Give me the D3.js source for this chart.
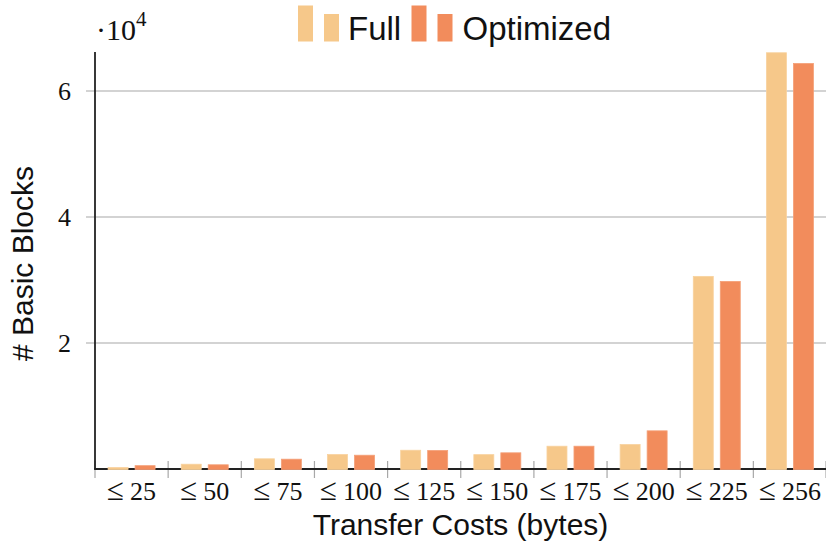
<html>
  <head>
    <meta charset="utf-8">
    <title>transfer costs</title>
    <style>
      body { margin: 0; background: #fff; }
      .tick text { font-family: "Liberation Serif", serif; }
    </style>
  </head>
  <body>
    <script src="https://cdn.jsdelivr.net/npm/d3@7"></script>
    <script>
    var width = 826;
    var height = 542;

    // data
    var categories = ["25", "50", "75", "100", "125", "150", "175", "200", "225", "256"];
    var fullValues = [150, 680, 1540, 2220, 2900, 2200, 3540, 3810, 30500, 66000];
    var optValues  = [450, 590, 1480, 2110, 2860, 2490, 3540, 5980, 29700, 64300];
    var yTicks = [20000, 40000, 60000];
    var seriesNames = ["Full", "Optimized"];
    var colors = ["#f6c88a", "#f28c5c"];
    var strokes = ["#f8d29e", "#f4a078"];

    var padding = {left: 95, right: 0, top: 52, bottom: 73};

    var svg = d3.select('body')
      .append('svg')
      .attr('width', width).attr('height', height);

    var xScale = d3.scaleBand()
      .domain(categories)
      .range([padding.left, width - padding.right + 0.5]);

    var yScale = d3.scaleLinear()
      .domain([0, 66200])
      .range([height - padding.bottom - 0, padding.top]);

    var y0 = yScale(0);

    // grid lines
    svg.append('g')
      .selectAll('line')
      .data(yTicks)
      .enter()
      .append('line')
      .attr('x1', padding.left - 9)
      .attr('x2', width)
      .attr('y1', d => yScale(d))
      .attr('y2', d => yScale(d))
      .attr('stroke', '#c4c4c4')
      .attr('stroke-width', 1.5);

    // y axis labels
    var yAxis = d3.axisLeft(yScale)
      .tickValues(yTicks)
      .tickFormat(d => d / 10000)
      .tickSize(0)
      .tickPadding(24);
    var gy = svg.append('g')
      .attr('transform', 'translate(' + padding.left + ',0)')
      .call(yAxis);
    gy.select('.domain').remove();
    gy.selectAll('text')
      .attr('font-size', 26)
      .attr('fill', '#111');

    // x boundary ticks
    var bounds = categories.map(c => xScale(c)).concat([xScale.range()[1] - 0.5]);
    svg.append('g')
      .selectAll('line')
      .data(bounds)
      .enter()
      .append('line')
      .attr('x1', d => d).attr('x2', d => d)
      .attr('y1', y0 - 8).attr('y2', y0 + 9)
      .attr('stroke', '#a8a8a8')
      .attr('stroke-width', 1.2);

    // axis lines
    svg.append('line')
      .attr('x1', padding.left).attr('x2', padding.left)
      .attr('y1', padding.top).attr('y2', y0)
      .attr('stroke', '#222').attr('stroke-width', 1.8);
    svg.append('line')
      .attr('x1', padding.left - 0.9).attr('x2', width)
      .attr('y1', y0).attr('y2', y0)
      .attr('stroke', '#222').attr('stroke-width', 2);

    // bars (drawn over the axis line, as in the original)
    var barW = 20, off = 13.5;
    var series = [fullValues, optValues];
    series.forEach(function(vals, s) {
      svg.selectAll('.bar' + s)
        .data(vals)
        .enter()
        .append('rect')
        .attr('class', 'bar' + s)
        .attr('x', (d, i) => xScale(categories[i]) + xScale.bandwidth() / 2 + (s === 0 ? -off : off) - barW / 2)
        .attr('y', d => yScale(d) - 0.5)
        .attr('width', barW)
        .attr('height', d => y0 - yScale(d) + 1)
        .attr('fill', colors[s])
        .attr('stroke', strokes[s])
        .attr('stroke-width', 0.8);
    });

    // x axis labels
    var xAxis = d3.axisBottom(xScale)
      .tickSize(0)
      .tickPadding(13)
      .tickFormat('');
    var gx = svg.append('g')
      .attr('transform', 'translate(0,' + y0 + ')')
      .call(xAxis);
    gx.select('.domain').remove();
    var lbl = gx.selectAll('text')
      .attr('font-size', 26)
      .attr('fill', '#111');
    lbl.append('tspan').attr('font-size', 31).text('\u2264');
    lbl.append('tspan').attr('dx', 6).text(d => d);

    // scale label
    var sl = svg.append('text')
      .attr('x', 96).attr('y', 40)
      .attr('font-family', '"Liberation Serif", serif')
      .attr('font-size', 30)
      .attr('fill', '#111');
    sl.append('tspan').text('\u00b710');
    sl.append('tspan').attr('dy', -14).attr('font-size', 21).text('4');

    // axis titles
    svg.append('text')
      .attr('transform', 'translate(33,' + ((padding.top + y0) / 2 + 3) + ') rotate(-90)')
      .attr('text-anchor', 'middle')
      .attr('font-family', '"Liberation Sans", Arial, sans-serif')
      .attr('font-size', 30)
      .attr('fill', '#111')
      .text('# Basic Blocks');

    svg.append('text')
      .attr('x', (padding.left + width) / 2)
      .attr('y', 535)
      .attr('text-anchor', 'middle')
      .attr('font-family', '"Liberation Sans", Arial, sans-serif')
      .attr('font-size', 30)
      .attr('fill', '#111')
      .text('Transfer Costs (bytes)');

    // legend
    var legendX = [298, 411.5];
    var legendTextX = [348, 462.5];
    seriesNames.forEach(function(name, s) {
      var g = svg.append('g');
      g.append('rect')
        .attr('x', legendX[s]).attr('y', 5.5)
        .attr('width', 15).attr('height', 36)
        .attr('fill', colors[s]);
      g.append('rect')
        .attr('x', legendX[s] + 26).attr('y', 14)
        .attr('width', 15).attr('height', 27.5)
        .attr('fill', colors[s]);
      g.append('text')
        .attr('x', legendTextX[s]).attr('y', 40)
        .attr('font-family', '"Liberation Sans", Arial, sans-serif')
        .attr('font-size', 33)
        .attr('fill', '#111')
        .text(name);
    });
    </script>
  </body>
</html>
